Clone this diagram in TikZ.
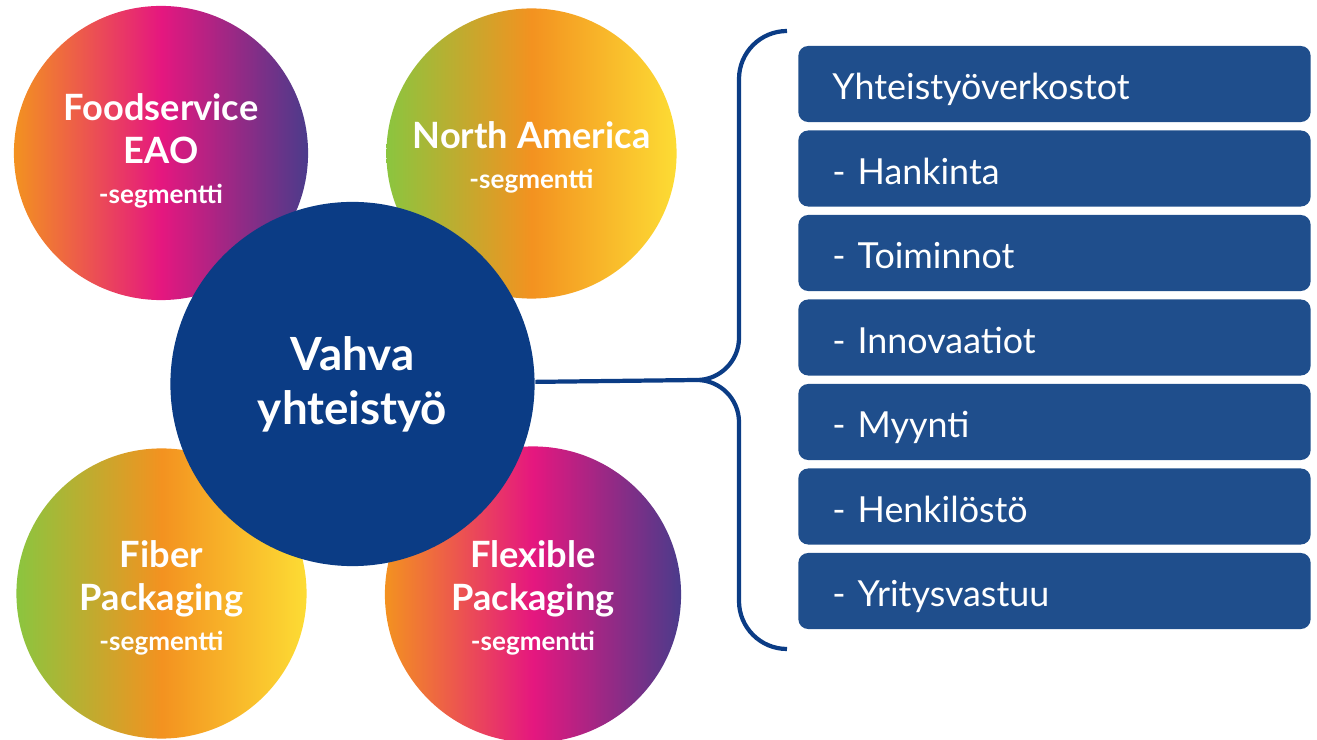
\documentclass[tikz,border=0pt]{standalone}
\usepackage{fontspec}
\setmainfont{Lato}
\usetikzlibrary{positioning}
\definecolor{darkblue}{HTML}{0B3C85}
\definecolor{boxblue}{HTML}{1F4E8C}
\definecolor{segorange}{HTML}{F39220}
\definecolor{segpink}{HTML}{E5177F}
\definecolor{segpurple}{HTML}{4B3B8B}
\definecolor{seggreen}{HTML}{8BC53F}
\definecolor{segyellow}{HTML}{FDDC34}

\begin{document}
\begin{tikzpicture}[x=0.01cm,y=-0.01cm,
		ball/.style={circle,inner sep=0pt},
		segtext/.style={text=white,align=center,inner sep=0pt,
			font=\bfseries\fontsize{10.3}{12.3}\selectfont},
		pinkball/.style={ball,left color=segorange,right color=segpurple,middle color=segpink},
		greenball/.style={ball,left color=seggreen,right color=segyellow,middle color=segorange},
		itembox/.style={fill=boxblue,rounded corners=2.8pt,text=white,minimum width=5.12cm,
			minimum height=0.76cm,text width=4.44cm,inner xsep=0.34cm,inner ysep=0pt,align=left,
			text height=9.1pt,text depth=0pt,font=\fontsize{10.2}{12}\selectfont},
		bracket/.style={draw=darkblue,line width=1.2pt}]
		\def\seg{{\fontsize{7.4}{9}\selectfont -segmentti}}
		\useasboundingbox (0,0) rectangle (1317,740);
		%Segments
		\node[pinkball,minimum size=2.94cm,
			label={[segtext,yshift=0.02cm]center:Foodservice\\EAO\\[-1pt]\seg}] (food) at (161,153) {};
		\node[greenball,minimum size=2.90cm,
			label={[segtext,yshift=-0.04cm]center:North America\\[-1pt]\seg}] (north) at (531.5,153.5) {};
		\node[greenball,minimum size=2.90cm,
			label={[segtext,yshift=-0.04cm]center:Fiber\\Packaging\\[-1pt]\seg}] (fiber) at (161.5,593.5) {};
		\node[pinkball,minimum size=2.96cm,
			label={[segtext,yshift=-0.03cm]center:Flexible\\Packaging\\[-1pt]\seg}] (flex) at (533,594.5) {};
		%Center
		\node[circle,fill=darkblue,minimum size=3.64cm,inner sep=0pt,text=white,align=center,
			font=\bfseries\fontsize{13}{15.4}\selectfont] (vahva) at (352.5,384) {Vahva\\yhteistyö};
		%Brace
		\coordinate (tip) at (697,380);
		\draw[bracket] (vahva) -- (tip);
		\draw[bracket] (787,31) .. controls (760.5,31) and (739,52.5) .. (739,79) -- (739,338)
			.. controls (739,361) and (720,380) .. (tip)
			.. controls (720,380) and (739,399) .. (739,422) -- (739,601)
			.. controls (739,627.5) and (760.5,649) .. (787,649);
		%Boxes
		\foreach \txt [count=\i] in {Yhteistyöverkostot,- Hankinta,- Toiminnot,- Innovaatiot,
			- Myynti,- Henkilöstö,- Yritysvastuu}
			\node[itembox] (item\i) at (1054.5,{84+(\i-1)*84.5}) {\txt};
\end{tikzpicture}
\end{document}
